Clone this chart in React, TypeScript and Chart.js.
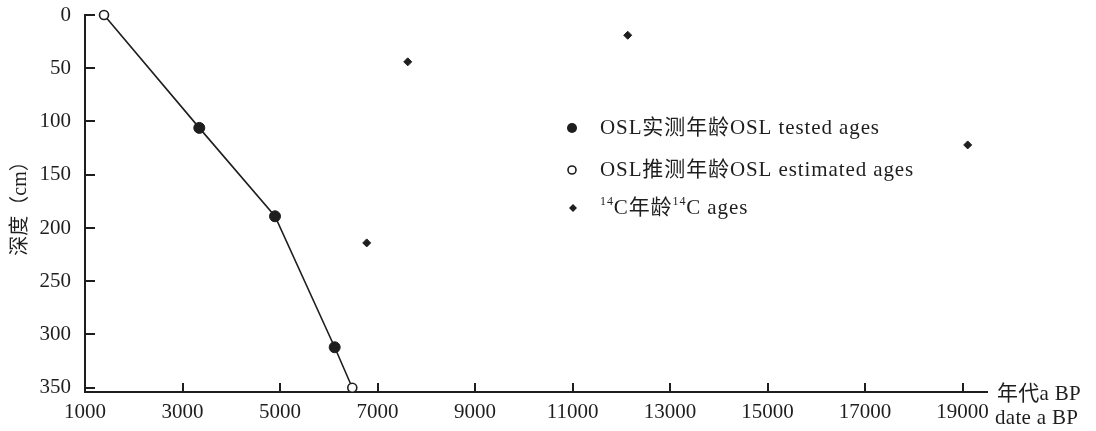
import React, { useEffect, useRef } from "react";
import { Chart, registerables } from "chart.js";

Chart.register(...registerables);

// ---- data (age in a BP, depth in cm) ----
const oslLineAges = [1390, 3344, 4897, 6121, 6482];
const oslLineDepths = [0, 106, 189, 312, 350];
const oslTestedAges = [3344, 4897, 6121];
const oslTestedDepths = [106, 189, 312];
const oslEstimatedAges = [1390, 6482];
const oslEstimatedDepths = [0, 350];
const c14Ages = [7619, 12131, 6778, 19104];
const c14Depths = [44, 19, 214, 122];

const xTickValues = [1000, 3000, 5000, 7000, 9000, 11000, 13000, 15000, 17000, 19000];
const yTickValues = [0, 50, 100, 150, 200, 250, 300, 350];

const legendLabels = [
  "OSL实测年龄OSL tested ages",
  "OSL推测年龄OSL estimated ages",
  "^14C年龄^14C ages",
];
const yAxisTitle = "深度（cm）";
const xAxisTitleLines = ["年代a BP", "date a BP"];

const INK = "#1e1e1e";
const FONT_FAMILY = "'Liberation Serif', 'Noto Sans CJK SC', serif";

function toPoints(xs: number[], ys: number[]) {
  return xs.map((x, i) => ({ x, y: ys[i] }));
}

function drawRich(ctx: CanvasRenderingContext2D, text: string, x: number, y: number, size: number) {
  const parts = text.split(/(\^\d+)/).filter((p) => p.length > 0);
  let cx = x;
  for (const p of parts) {
    if (p.startsWith("^")) {
      const s = p.slice(1);
      ctx.font = `${Math.round(size * 0.55)}px ${FONT_FAMILY}`;
      ctx.fillText(s, cx, y - size * 0.3);
      cx += ctx.measureText(s).width;
    } else {
      ctx.font = `${size}px ${FONT_FAMILY}`;
      ctx.fillText(p, cx, y);
      cx += ctx.measureText(p).width;
    }
  }
}

const decorPlugin = {
  id: "decor",
  afterDraw(chart: any) {
    const ctx: CanvasRenderingContext2D = chart.ctx;
    const xs = chart.scales.x;
    const ys = chart.scales.y;
    const area = chart.chartArea;
    ctx.save();
    // inward tick marks
    ctx.strokeStyle = INK;
    ctx.lineWidth = 2;
    ctx.beginPath();
    for (const v of xTickValues) {
      const px = Math.round(xs.getPixelForValue(v));
      ctx.moveTo(px, area.bottom);
      ctx.lineTo(px, area.bottom - 9);
    }
    for (const v of yTickValues) {
      const py = Math.round(ys.getPixelForValue(v));
      ctx.moveTo(area.left, py);
      ctx.lineTo(area.left + 10, py);
    }
    ctx.stroke();

    // legend
    const lx = 572;
    const ly = [128, 170, 208];
    ctx.fillStyle = INK;
    ctx.beginPath();
    ctx.arc(lx, ly[0], 5, 0, Math.PI * 2);
    ctx.fill();
    ctx.beginPath();
    ctx.arc(lx, ly[1], 4, 0, Math.PI * 2);
    ctx.fillStyle = "#fff";
    ctx.fill();
    ctx.lineWidth = 1.6;
    ctx.stroke();
    ctx.fillStyle = INK;
    ctx.beginPath();
    ctx.moveTo(lx + 1, ly[2] - 4);
    ctx.lineTo(lx + 5, ly[2]);
    ctx.lineTo(lx + 1, ly[2] + 4);
    ctx.lineTo(lx - 3, ly[2]);
    ctx.closePath();
    ctx.fill();

    ctx.textBaseline = "middle";
    ctx.textAlign = "left";
    (ctx as any).letterSpacing = "0.9px";
    legendLabels.forEach((t, i) => drawRich(ctx, t, 600, ly[i], 21));
    (ctx as any).letterSpacing = "0.3px";

    // x axis title (two lines at the right end of the axis)
    ctx.font = `21px ${FONT_FAMILY}`;
    ctx.fillText(xAxisTitleLines[0], 997, area.bottom + 2);
    ctx.fillText(xAxisTitleLines[1], 995, area.bottom + 26);
    ctx.restore();
  },
};

export default function App() {
  const canvasRef = useRef<HTMLCanvasElement | null>(null);

  useEffect(() => {
    if (!canvasRef.current) return;
    const chart = new Chart(canvasRef.current, {
      type: "scatter",
      data: {
        datasets: [
          {
            label: "OSL tested",
            data: toPoints(oslTestedAges, oslTestedDepths),
            pointStyle: "circle",
            pointRadius: 5.5,
            backgroundColor: INK,
            borderColor: INK,
            borderWidth: 1,
            order: 1,
            clip: false,
          },
          {
            label: "OSL estimated",
            data: toPoints(oslEstimatedAges, oslEstimatedDepths),
            pointStyle: "circle",
            pointRadius: 4.5,
            backgroundColor: "#ffffff",
            borderColor: INK,
            borderWidth: 1.6,
            order: 1,
            clip: false,
          },
          {
            label: "14C",
            data: toPoints(c14Ages, c14Depths),
            pointStyle: "rectRot",
            pointRadius: 4,
            backgroundColor: INK,
            borderColor: INK,
            borderWidth: 1,
            order: 1,
            clip: false,
          },
          {
            type: "line",
            label: "OSL line",
            data: toPoints(oslLineAges, oslLineDepths),
            showLine: true,
            pointRadius: 0,
            borderColor: INK,
            borderWidth: 1.6,
            fill: false,
            tension: 0,
            order: 10,
            clip: false,
          } as any,
        ],
      },
      options: {
        animation: false,
        responsive: true,
        maintainAspectRatio: false,
        layout: { padding: { top: 15, right: 109, left: 0, bottom: 0 } },
        plugins: {
          legend: { display: false },
          tooltip: { enabled: false },
        },
        scales: {
          x: {
            type: "linear",
            min: 1000,
            max: 19500,
            grid: { display: false, drawTicks: false },
            border: { display: true, color: INK, width: 2 },
            afterBuildTicks: (scale: any) => {
              scale.ticks = xTickValues.map((v) => ({ value: v }));
            },
            afterFit: (scale: any) => {
              scale.height = 39;
              scale.paddingLeft = 0;
              scale.paddingRight = 0;
            },
            ticks: {
              autoSkip: false,
              maxRotation: 0,
              padding: 8,
              color: INK,
              font: { family: FONT_FAMILY, size: 21 },
              callback: (v: any) => String(v),
            },
          },
          y: {
            type: "linear",
            reverse: true,
            min: 0,
            max: 354,
            grid: { display: false, drawTicks: false },
            border: { display: true, color: INK, width: 2 },
            afterBuildTicks: (scale: any) => {
              scale.ticks = yTickValues.map((v) => ({ value: v }));
            },
            afterFit: (scale: any) => {
              scale.width = 85;
              scale.paddingTop = 0;
              scale.paddingBottom = 0;
            },
            title: {
              display: true,
              text: yAxisTitle,
              color: INK,
              font: { family: FONT_FAMILY, size: 20 },
              padding: { top: 9, bottom: 0 },
            },
            ticks: {
              autoSkip: false,
              padding: 14,
              color: INK,
              font: { family: FONT_FAMILY, size: 21 },
              callback: (v: any) => String(v),
            },
          },
        },
      },
      plugins: [decorPlugin],
    });
    return () => chart.destroy();
  }, []);

  return (
    <div style={{ position: "absolute", left: 0, top: 0, width: 1096, height: 431, background: "#fff" }}>
      <canvas ref={canvasRef} />
    </div>
  );
}
